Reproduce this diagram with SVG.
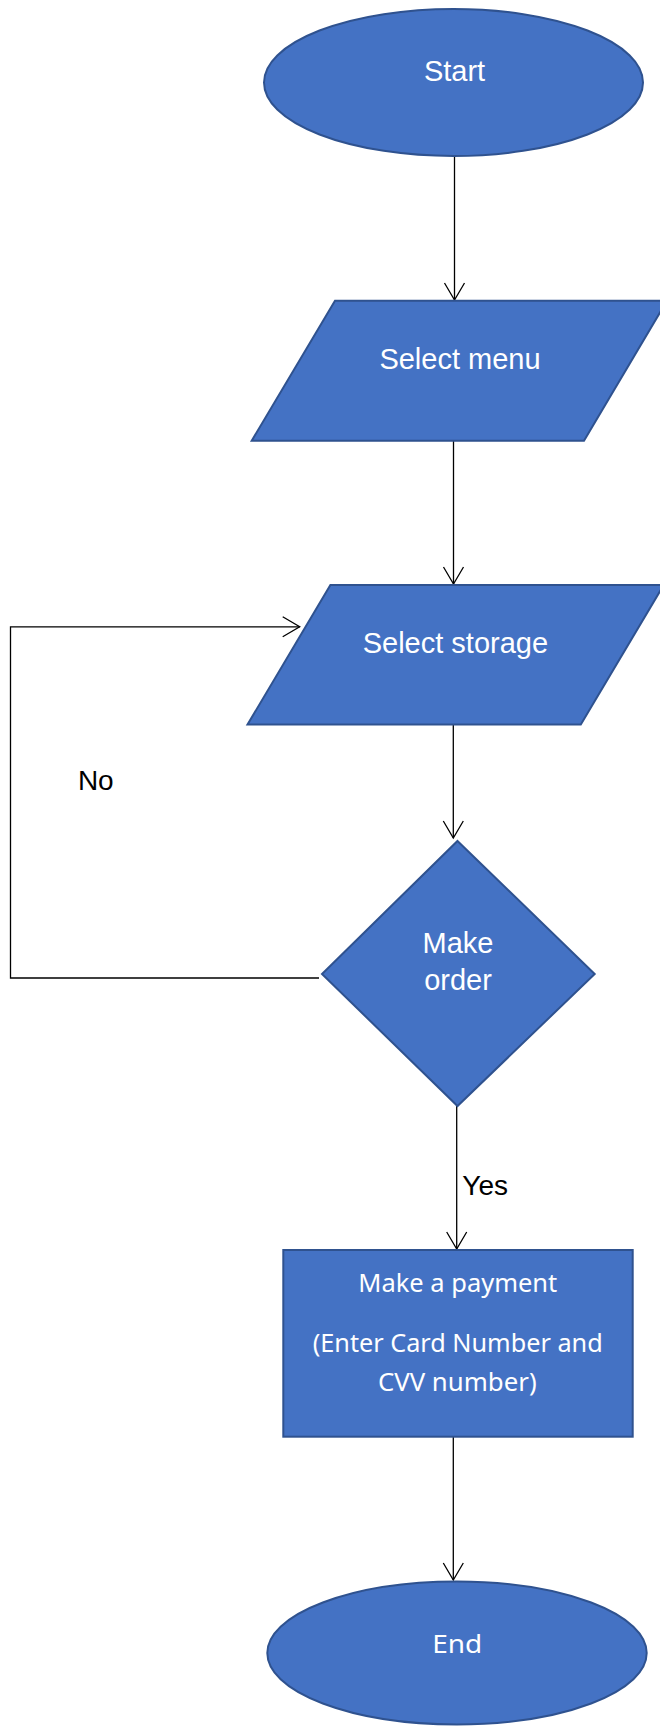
<svg xmlns="http://www.w3.org/2000/svg" width="660" height="1726" viewBox="0 0 660 1726">
<style>
.shape{fill:#4472C4;stroke:#2F528F;stroke-width:2}
.lbl{font-family:"Liberation Sans",Arial,sans-serif;font-size:29px;fill:#FFFFFF;text-anchor:middle}
.lblc{font-family:"Noto Sans","Open Sans",sans-serif;font-size:25px;fill:#FFFFFF;text-anchor:middle}
.edge{fill:none;stroke:#000000;stroke-width:1.3}
.elbl{font-family:"Liberation Sans",Arial,sans-serif;font-size:28px;fill:#000000}
</style>
<defs>
<marker id="arrow" markerUnits="userSpaceOnUse" markerWidth="22" markerHeight="24" refX="18" refY="12" orient="auto" viewBox="0 0 22 24">
<path d="M1,2 L18,12 L1,22" fill="none" stroke="#000000" stroke-width="1.3"/>
</marker>
</defs>
<rect width="660" height="1726" fill="#FFFFFF"/>
<g id="connectors">
<line class="edge" x1="454.5" y1="156" x2="454.5" y2="300" marker-end="url(#arrow)"/>
<line class="edge" x1="453.5" y1="441" x2="453.5" y2="584" marker-end="url(#arrow)"/>
<line class="edge" x1="453.3" y1="725" x2="453.3" y2="838" marker-end="url(#arrow)"/>
<polyline class="edge" points="319,978 10.5,978 10.5,626.8 299.7,626.8" marker-end="url(#arrow)"/>
<line class="edge" x1="456.7" y1="1106" x2="456.7" y2="1249" marker-end="url(#arrow)"/>
<line class="edge" x1="453.3" y1="1437" x2="453.3" y2="1580" marker-end="url(#arrow)"/>
<text class="elbl" x="77.9" y="790">No</text>
<text class="elbl" x="462.3" y="1195" font-size="28.5">Yes</text>
</g>
<g id="start">
<ellipse class="shape" cx="453.5" cy="82.5" rx="189.5" ry="73.5"/>
<text class="lbl" x="454.5" y="81">Start</text>
</g>
<g id="select-menu">
<polygon class="shape" points="335,300.7 667,300.7 584,440.7 251.7,440.7"/>
<text class="lbl" x="460" y="369">Select menu</text>
</g>
<g id="select-storage">
<polygon class="shape" points="330.4,585 663.7,585 580.8,724.6 247.5,724.6"/>
<text class="lbl" x="455.4" y="653">Select storage</text>
</g>
<g id="make-order">
<polygon class="shape" points="457.5,841 594.7,974 457.5,1106 322,974"/>
<text class="lbl" x="458" y="953">Make</text>
<text class="lbl" x="458" y="990.4">order</text>
</g>
<g id="make-payment">
<rect class="shape" x="283.3" y="1250" width="349.4" height="186.7"/>
<text class="lblc" x="457.8" y="1291.7" textLength="199" lengthAdjust="spacingAndGlyphs">Make a payment</text>
<text class="lblc" x="457.7" y="1351.7" textLength="290" lengthAdjust="spacingAndGlyphs">(Enter Card Number and</text>
<text class="lblc" x="457.3" y="1390.7" textLength="158.7" lengthAdjust="spacingAndGlyphs">CVV number)</text>
</g>
<g id="end">
<ellipse class="shape" cx="457" cy="1653" rx="189.7" ry="71.5"/>
<text class="lblc" x="457.3" y="1653.3" font-size="28" textLength="50" lengthAdjust="spacingAndGlyphs">End</text>
</g>
</svg>
